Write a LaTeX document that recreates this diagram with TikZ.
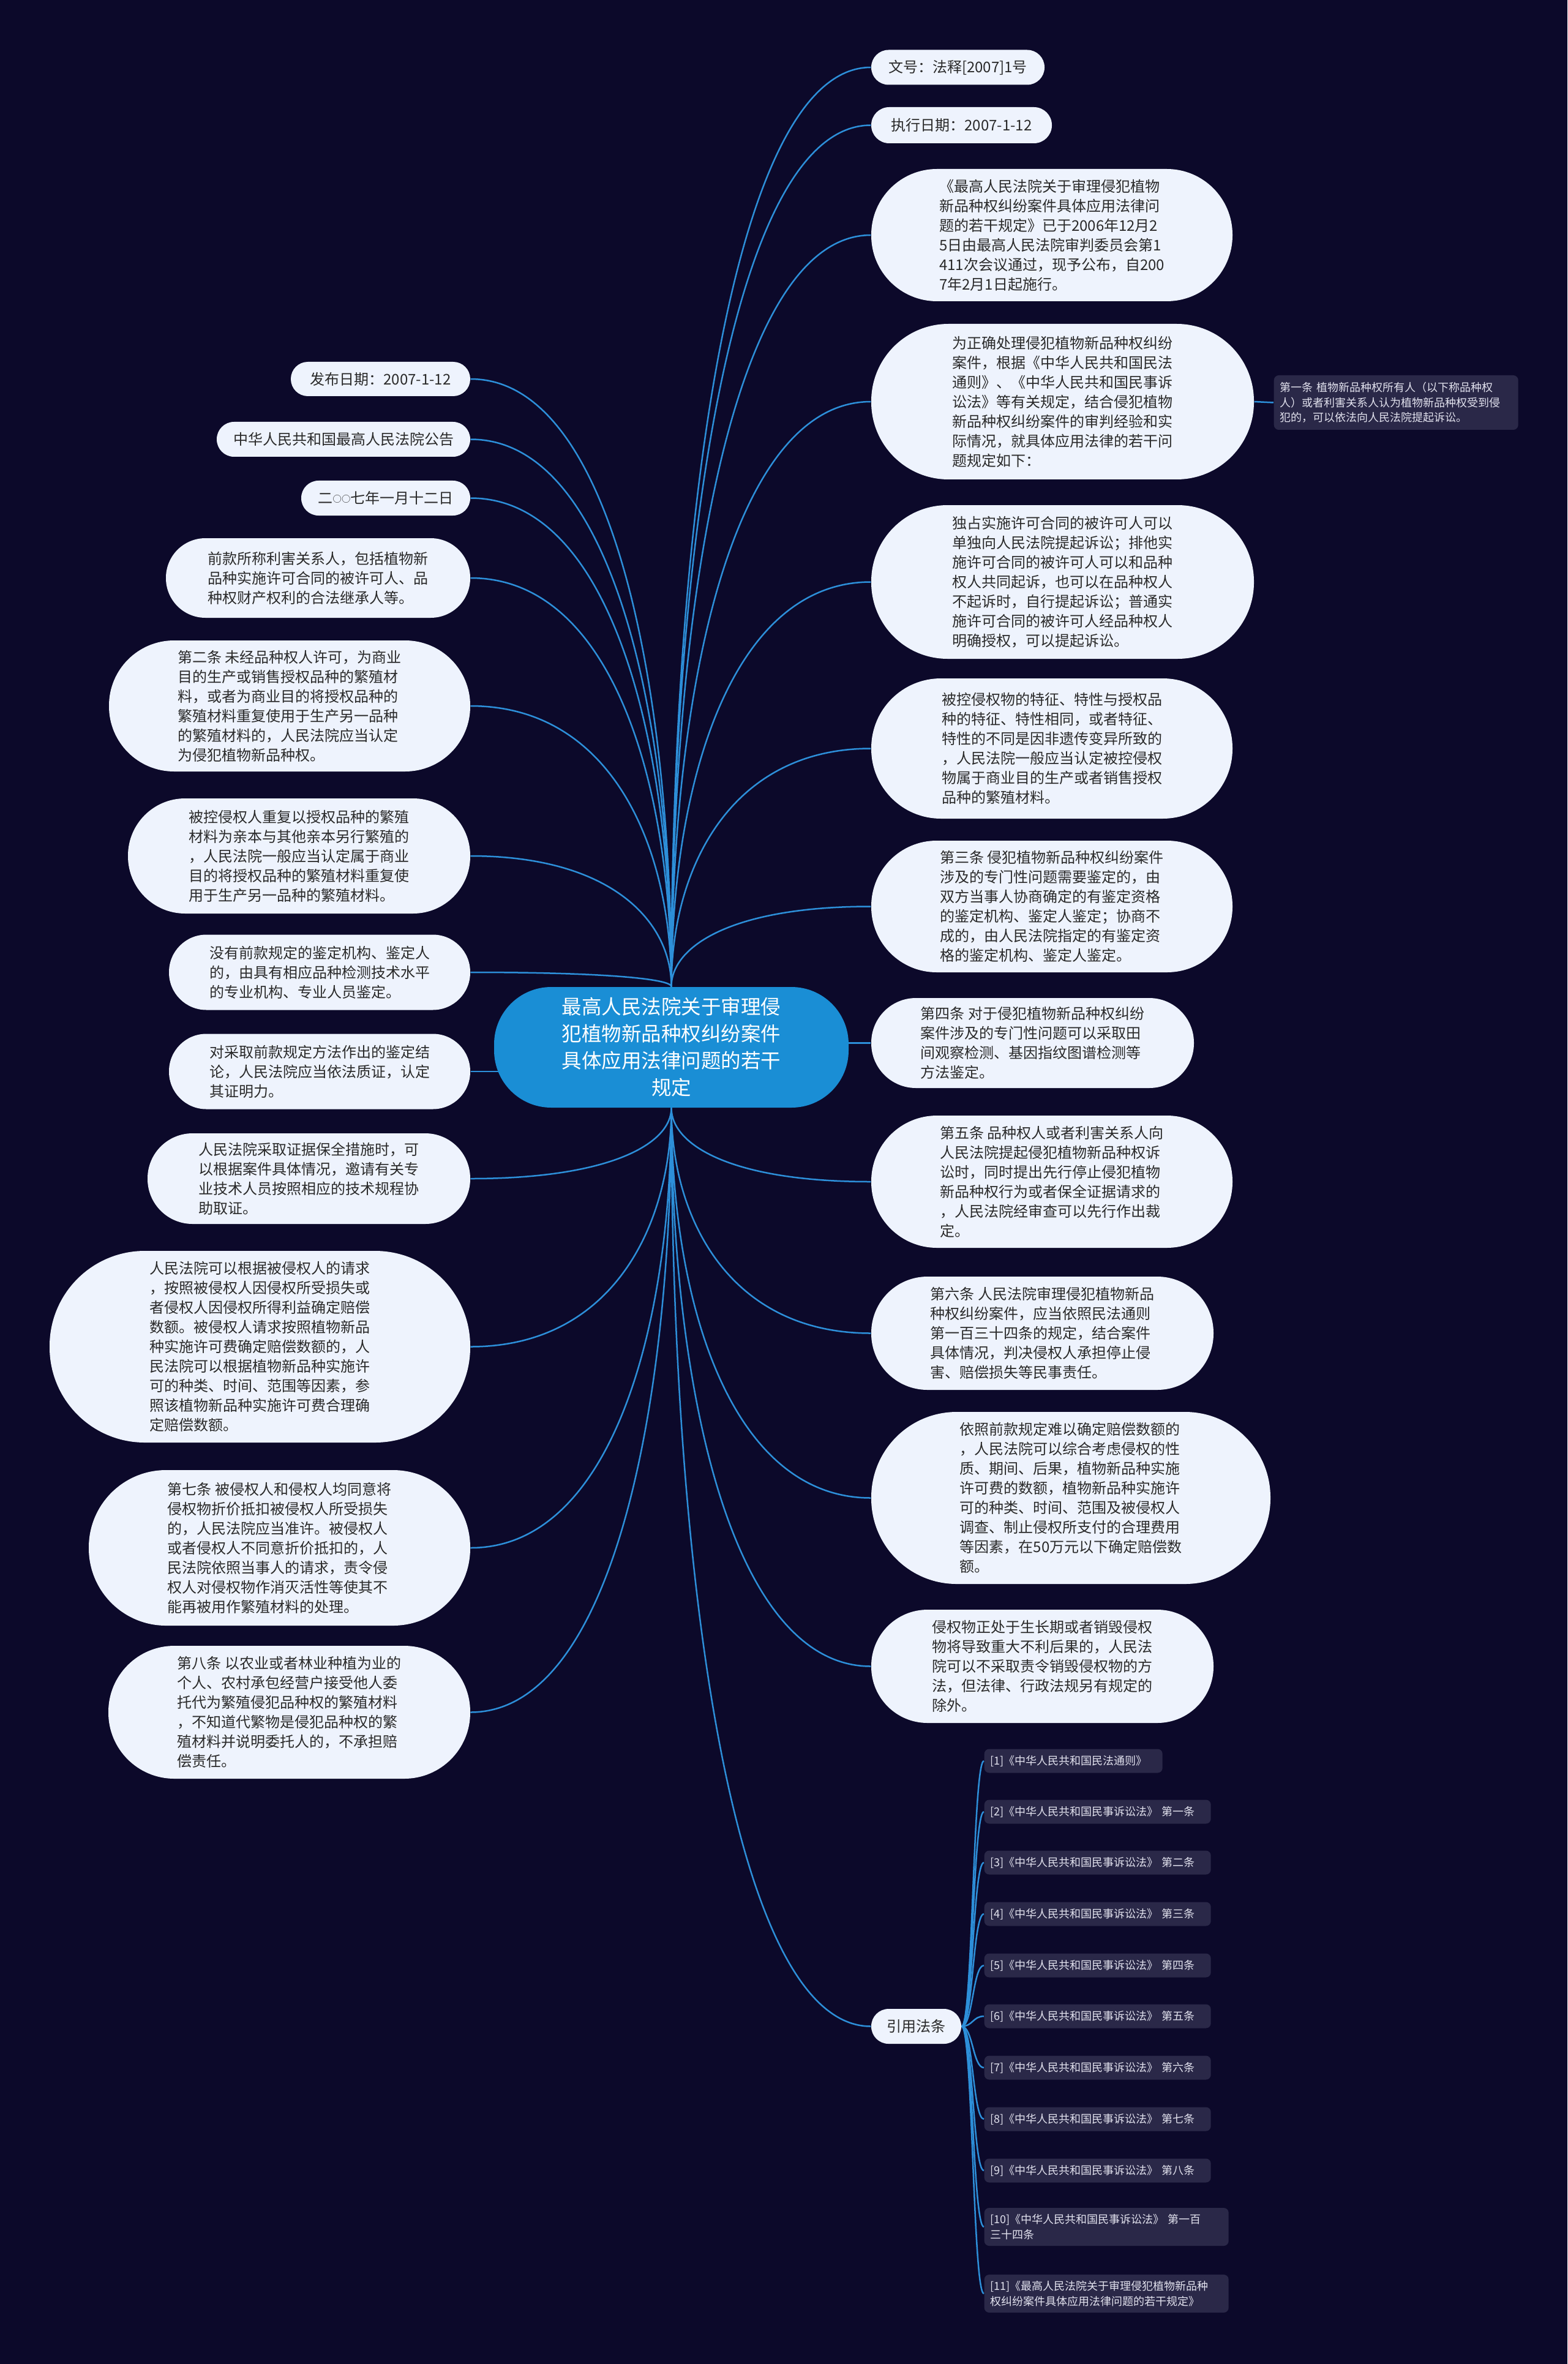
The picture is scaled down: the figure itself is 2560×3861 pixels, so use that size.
\documentclass[tikz,border=0pt]{standalone}
\usepackage{fontspec}
\setmainfont{Noto Sans CJK SC}
\usetikzlibrary{calc}
\definecolor{bgc}{HTML}{0C092A}
\definecolor{nodefill}{HTML}{EEF3FD}
\definecolor{txtc}{HTML}{2A2A2A}
\definecolor{rootc}{HTML}{1A8ED5}
\definecolor{linec}{HTML}{2D8FD9}
\definecolor{citec}{HTML}{2A2848}
\definecolor{citetxt}{HTML}{E2E2EE}
\newcommand\fsN{\fontsize{7.2pt}{9.6pt}\selectfont}
\newcommand\fsC{\fontsize{9.75pt}{13.2pt}\selectfont}
\newcommand\fsS{\fontsize{5.4pt}{7.3pt}\selectfont}
\newcommand\smallcirc{\raisebox{0.6pt}{\fontsize{4.3pt}{4.3pt}\selectfont ○}}
\pgfdeclarelayer{bg}
\pgfsetlayers{bg,main}
\tikzset{
 pill/.style={fill=nodefill, text=txtc, font=\fsN, align=left, inner sep=0pt, minimum height={#1*0.3pt}, rounded corners={#1*0.149pt}},
 wpx/.style={minimum width={#1*0.3pt}},
 rootnode/.style={fill=rootc, text=white, font=\fsC, align=center, inner sep=0pt, minimum width=173.7pt, minimum height=59.1pt, rounded corners=28pt},
 citebox/.style={fill=citec, text=citetxt, font=\fsS, align=left, inner xsep=3pt, inner ysep=0pt, rounded corners=2.4pt, anchor=west, minimum height=11.7pt},
 lnkline/.style={draw=linec, line width=0.75pt},
}
\newcommand\mylnk[2]{\draw[lnkline] let \p1=(#1), \p2=(#2) in (\p1) .. controls (\x1,{0.5*(\y1+\y2)}) and ({\x1+0.3*(\x2-\x1)},\y2) .. (\p2);}
\newcommand\mycitelnk[2]{\draw[lnkline] (#1) .. controls +(18,0) and +(-18,0) .. (#2);}

\begin{document}
\begin{tikzpicture}[x=0.3pt,y=-0.3pt]
\useasboundingbox (0,0) rectangle (2560,3861);

% centre
\node[rootnode] (c) at (1096.5,1710.5) {最高人民法院关于审理侵\\犯植物新品种权纠纷案件\\具体应用法律问题的若干\\规定};

% right side
\node[pill=57, wpx=283] (n1) at (1564.5,110) {文号：法释[2007]1号};
\node[pill=59, wpx=295] (n2) at (1570.5,204.5) {执行日期：2007-1-12};
\node[pill=216, wpx=590] (n3) at (1718,384) {《最高人民法院关于审理侵犯植物\\新品种权纠纷案件具体应用法律问\\题的若干规定》已于2006年12月2\\5日由最高人民法院审判委员会第1\\411次会议通过，现予公布，自200\\7年2月1日起施行。};
\node[pill=254, wpx=625] (n4) at (1735.5,656) {为正确处理侵犯植物新品种权纠纷\\案件，根据《中华人民共和国民法\\通则》、《中华人民共和国民事诉\\讼法》等有关规定，结合侵犯植物\\新品种权纠纷案件的审判经验和实\\际情况，就具体应用法律的若干问\\题规定如下：};
\node[citebox, text width=113.7pt, minimum height=26.7pt] (n4a) at (2080,657.5) {第一条 植物新品种权所有人（以下称品种权\\人）或者利害关系人认为植物新品种权受到侵\\犯的，可以依法向人民法院提起诉讼。};
\node[pill=251, wpx=625] (n5) at (1735.5,950.5) {独占实施许可合同的被许可人可以\\单独向人民法院提起诉讼；排他实\\施许可合同的被许可人可以和品种\\权人共同起诉，也可以在品种权人\\不起诉时，自行提起诉讼；普通实\\施许可合同的被许可人经品种权人\\明确授权，可以提起诉讼。};
\node[pill=229, wpx=590] (n6) at (1718,1222.5) {被控侵权物的特征、特性与授权品\\种的特征、特性相同，或者特征、\\特性的不同是因非遗传变异所致的\\，人民法院一般应当认定被控侵权\\物属于商业目的生产或者销售授权\\品种的繁殖材料。};
\node[pill=215, wpx=590] (n7) at (1718,1480.5) {第三条 侵犯植物新品种权纠纷案件\\涉及的专门性问题需要鉴定的，由\\双方当事人协商确定的有鉴定资格\\的鉴定机构、鉴定人鉴定；协商不\\成的，由人民法院指定的有鉴定资\\格的鉴定机构、鉴定人鉴定。};
\node[pill=147, wpx=527] (n8) at (1686.5,1703.5) {第四条 对于侵犯植物新品种权纠纷\\案件涉及的专门性问题可以采取田\\间观察检测、基因指纹图谱检测等\\方法鉴定。};
\node[pill=216, wpx=590] (n9) at (1718,1930) {第五条 品种权人或者利害关系人向\\人民法院提起侵犯植物新品种权诉\\讼时，同时提出先行停止侵犯植物\\新品种权行为或者保全证据请求的\\，人民法院经审查可以先行作出裁\\定。};
\node[pill=185, wpx=559] (n10) at (1702.5,2177.5) {第六条 人民法院审理侵犯植物新品\\种权纠纷案件，应当依照民法通则\\第一百三十四条的规定，结合案件\\具体情况，判决侵权人承担停止侵\\害、赔偿损失等民事责任。};
\node[pill=281, wpx=652] (n11) at (1749,2446.5) {依照前款规定难以确定赔偿数额的\\，人民法院可以综合考虑侵权的性\\质、期间、后果，植物新品种实施\\许可费的数额，植物新品种实施许\\可的种类、时间、范围及被侵权人\\调查、制止侵权所支付的合理费用\\等因素，在50万元以下确定赔偿数\\额。};
\node[pill=185, wpx=559] (n12) at (1702.5,2721.5) {侵权物正处于生长期或者销毁侵权\\物将导致重大不利后果的，人民法\\院可以不采取责令销毁侵权物的方\\法，但法律、行政法规另有规定的\\除外。};
\node[pill=57, wpx=147] (n13) at (1496.5,3309.5) {引用法条};

% citations
\node[citebox, text width=81.3pt] (r1) at (1607,2876) {[1]《中华人民共和国民法通则》};
\node[citebox, text width=105pt] (r2) at (1607,2959) {[2]《中华人民共和国民事诉讼法》 第一条};
\node[citebox, text width=105pt] (r3) at (1607,3042) {[3]《中华人民共和国民事诉讼法》 第二条};
\node[citebox, text width=105pt] (r4) at (1607,3126) {[4]《中华人民共和国民事诉讼法》 第三条};
\node[citebox, text width=105pt] (r5) at (1607,3210) {[5]《中华人民共和国民事诉讼法》 第四条};
\node[citebox, text width=105pt] (r6) at (1607,3293) {[6]《中华人民共和国民事诉讼法》 第五条};
\node[citebox, text width=105pt] (r7) at (1607,3377) {[7]《中华人民共和国民事诉讼法》 第六条};
\node[citebox, text width=105pt] (r8) at (1607,3461) {[8]《中华人民共和国民事诉讼法》 第七条};
\node[citebox, text width=105pt] (r9) at (1607,3545) {[9]《中华人民共和国民事诉讼法》 第八条};
\node[citebox, text width=113.7pt, minimum height=18.6pt] (r10) at (1607,3637) {[10]《中华人民共和国民事诉讼法》 第一百\\三十四条};
\node[citebox, text width=113.7pt, minimum height=18.6pt] (r11) at (1607,3746) {[11]《最高人民法院关于审理侵犯植物新品种\\权纠纷案件具体应用法律问题的若干规定》};

% left side
\node[pill=56, wpx=293] (m1) at (621.5,619) {发布日期：2007-1-12};
\node[pill=57, wpx=414] (m2) at (561,717.5) {中华人民共和国最高人民法院公告};
\node[pill=57, wpx=276] (m3) at (630,813.5) {二\smallcirc\smallcirc 七年一月十二日};
\node[pill=130, wpx=497] (m4) at (519.5,944) {前款所称利害关系人，包括植物新\\品种实施许可合同的被许可人、品\\种权财产权利的合法继承人等。};
\node[pill=214, wpx=590] (m5) at (473,1153) {第二条 未经品种权人许可，为商业\\目的生产或销售授权品种的繁殖材\\料，或者为商业目的将授权品种的\\繁殖材料重复使用于生产另一品种\\的繁殖材料的，人民法院应当认定\\为侵犯植物新品种权。};
\node[pill=188, wpx=559] (m6) at (488.5,1398) {被控侵权人重复以授权品种的繁殖\\材料为亲本与其他亲本另行繁殖的\\，人民法院一般应当认定属于商业\\目的将授权品种的繁殖材料重复使\\用于生产另一品种的繁殖材料。};
\node[pill=123, wpx=492] (m7) at (522,1588) {没有前款规定的鉴定机构、鉴定人\\的，由具有相应品种检测技术水平\\的专业机构、专业人员鉴定。};
\node[pill=123, wpx=492] (m8) at (522,1750) {对采取前款规定方法作出的鉴定结\\论，人民法院应当依法质证，认定\\其证明力。};
\node[pill=148, wpx=527] (m9) at (504.5,1925) {人民法院采取证据保全措施时，可\\以根据案件具体情况，邀请有关专\\业技术人员按照相应的技术规程协\\助取证。};
\node[pill=313, wpx=687] (m10) at (424.5,2199.5) {人民法院可以根据被侵权人的请求\\，按照被侵权人因侵权所受损失或\\者侵权人因侵权所得利益确定赔偿\\数额。被侵权人请求按照植物新品\\种实施许可费确定赔偿数额的，人\\民法院可以根据植物新品种实施许\\可的种类、时间、范围等因素，参\\照该植物新品种实施许可费合理确\\定赔偿数额。};
\node[pill=254, wpx=623] (m11) at (456.5,2528) {第七条 被侵权人和侵权人均同意将\\侵权物折价抵扣被侵权人所受损失\\的，人民法院应当准许。被侵权人\\或者侵权人不同意折价抵扣的，人\\民法院依照当事人的请求，责令侵\\权人对侵权物作消灭活性等使其不\\能再被用作繁殖材料的处理。};
\node[pill=217, wpx=591] (m12) at (472.5,2796.5) {第八条 以农业或者林业种植为业的\\个人、农村承包经营户接受他人委\\托代为繁殖侵犯品种权的繁殖材料\\，不知道代繁物是侵犯品种权的繁\\殖材料并说明委托人的，不承担赔\\偿责任。};

\begin{pgfonlayer}{bg}
\fill[bgc] (0,0) rectangle (2560,3861);
% upper group
\mylnk{c.north}{n1.west}
\mylnk{c.north}{n2.west}
\mylnk{c.north}{n3.west}
\mylnk{c.north}{n4.west}
\mylnk{c.north}{n5.west}
\mylnk{c.north}{n6.west}
\mylnk{c.north}{n7.west}
\mylnk{c.north}{m1.east}
\mylnk{c.north}{m2.east}
\mylnk{c.north}{m3.east}
\mylnk{c.north}{m4.east}
\mylnk{c.north}{m5.east}
\mylnk{c.north}{m6.east}
\mylnk{c.north}{m7.east}
% level
\draw[lnkline] (n8.west -| c.center) -- (n8.west);
\draw[lnkline] (m8.east -| c.center) -- (m8.east);
% lower group
\mylnk{c.south}{n9.west}
\mylnk{c.south}{n10.west}
\mylnk{c.south}{n11.west}
\mylnk{c.south}{n12.west}
\mylnk{c.south}{n13.west}
\mylnk{c.south}{m9.east}
\mylnk{c.south}{m10.east}
\mylnk{c.south}{m11.east}
\mylnk{c.south}{m12.east}
% sub links
\draw[lnkline] (n4.east) -- (n4a.west);
\mycitelnk{n13.east}{r1.west}
\mycitelnk{n13.east}{r2.west}
\mycitelnk{n13.east}{r3.west}
\mycitelnk{n13.east}{r4.west}
\mycitelnk{n13.east}{r5.west}
\mycitelnk{n13.east}{r6.west}
\mycitelnk{n13.east}{r7.west}
\mycitelnk{n13.east}{r8.west}
\mycitelnk{n13.east}{r9.west}
\mycitelnk{n13.east}{r10.west}
\mycitelnk{n13.east}{r11.west}
\end{pgfonlayer}
\end{tikzpicture}
\end{document}
